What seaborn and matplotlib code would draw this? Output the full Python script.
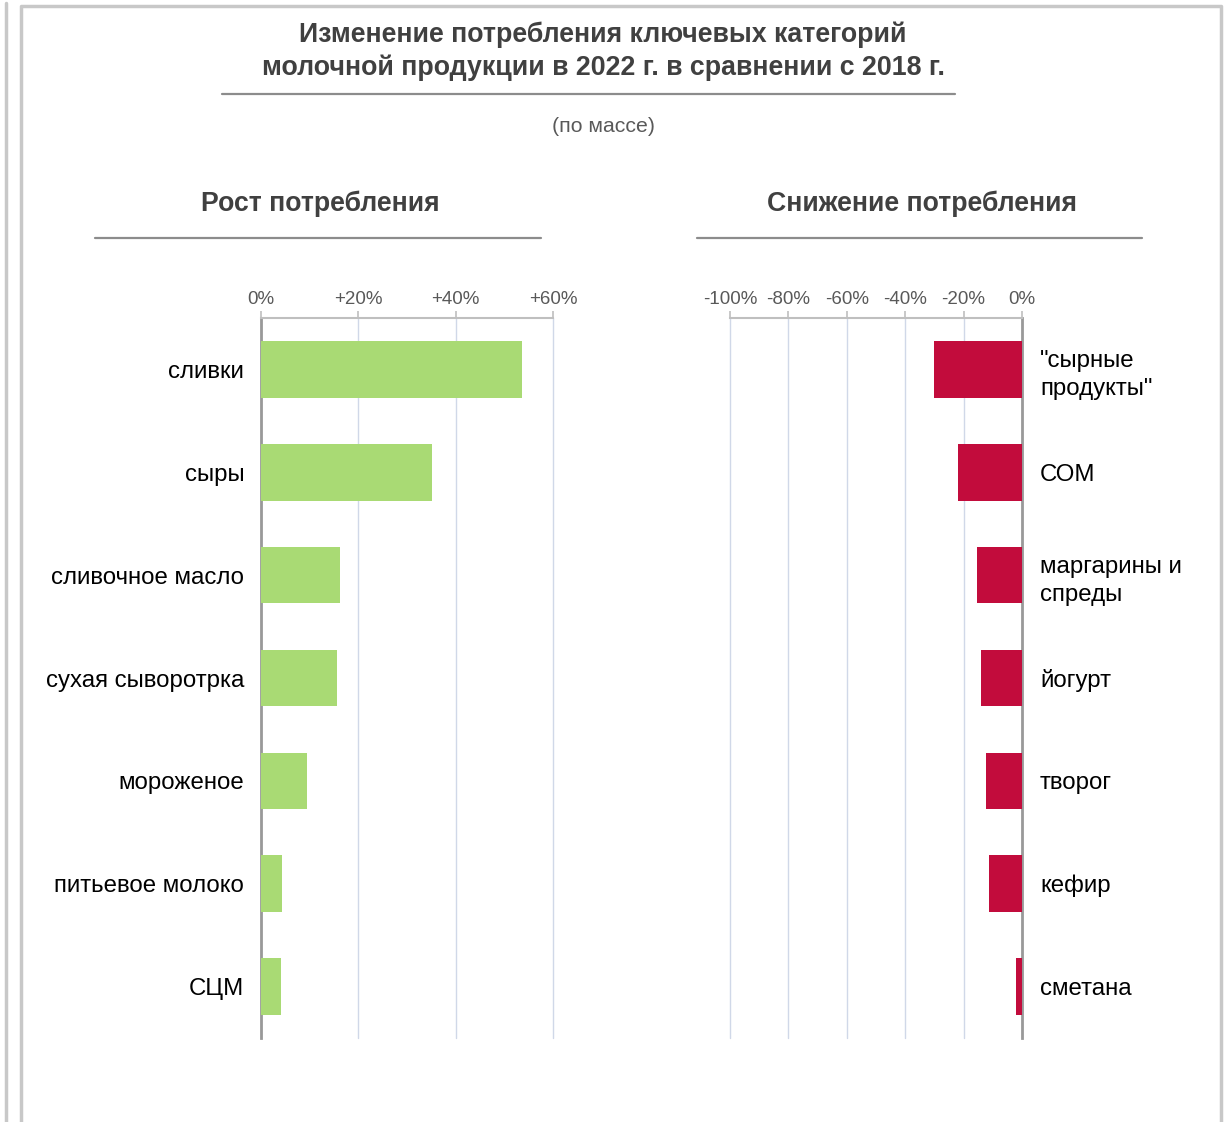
import matplotlib
matplotlib.use("Agg")
import matplotlib.pyplot as plt
import seaborn as sns
import pandas as pd
from matplotlib.lines import Line2D

sns.set_theme(style="white")
plt.rcParams['font.family'] = ['Liberation Sans', 'DejaVu Sans']

# Data
growth_cats = ["сливки", "сыры", "сливочное масло", "сухая сыворотрка",
               "мороженое", "питьевое молоко", "СЦМ"]
growth_vals = [53.6, 35.2, 16.2, 15.6, 9.5, 4.3, 4.1]

decline_cats = ['"сырные\nпродукты"', "СОМ", "маргарины и\nспреды", "йогурт",
                "творог", "кефир", "сметана"]
decline_vals = [-30.0, -21.9, -15.3, -14.0, -12.3, -11.2, -2.0]

growth_ticks = [0, 20, 40, 60]
growth_ticklabels = ["0%", "+20%", "+40%", "+60%"]
decline_ticks = [-100, -80, -60, -40, -20, 0]
decline_ticklabels = ["-100%", "-80%", "-60%", "-40%", "-20%", "0%"]

title = "Изменение потребления ключевых категорий\nмолочной продукции в 2022 г. в сравнении с 2018 г."
subtitle = "(по массе)"
left_title = "Рост потребления"
right_title = "Снижение потребления"

W, H = 1230, 1122
fig = plt.figure(figsize=(W / 100, H / 100), dpi=100)

def fx(px):
    return px / W

def fy(py):
    return 1 - py / H

green = "#a9da74"
red = "#c20c3c"
grid_c = "#d0d8e8"
spine_c = "#bfbfbf"
axis_c = "#999999"
tick_c = "#595959"

axL = fig.add_axes([fx(261), fy(1038), fx(553) - fx(261), fy(318) - fy(1038)])
axR = fig.add_axes([fx(730), fy(1038), fx(1022) - fx(730), fy(318) - fy(1038)])

dfL = pd.DataFrame({"cat": growth_cats, "val": growth_vals})
dfR = pd.DataFrame({"cat": decline_cats, "val": decline_vals})

sns.barplot(data=dfL, x="val", y="cat", orient="h", color=green, width=0.55,
            saturation=1, ax=axL, zorder=3, linewidth=0)
sns.barplot(data=dfR, x="val", y="cat", orient="h", color=red, width=0.55,
            saturation=1, ax=axR, zorder=3, linewidth=0)

for ax, ticks, labels, xlim in [(axL, growth_ticks, growth_ticklabels, (0, 60)),
                                (axR, decline_ticks, decline_ticklabels, (-100, 0))]:
    ax.set_xlim(*xlim)
    ax.set_ylim(6.5, -0.5)
    ax.set_xlabel("")
    ax.set_ylabel("")
    ax.xaxis.set_ticks_position("top")
    ax.set_xticks(ticks)
    ax.set_xticklabels(labels)
    ax.tick_params(axis="x", colors=spine_c, labelcolor=tick_c, labelsize=13.5,
                   length=5, width=1.2, direction="out", pad=2.5)
    ax.tick_params(axis="y", length=0, labelsize=17.3, labelcolor="black")
    ax.grid(axis="x", color=grid_c, linewidth=1.0, zorder=0, clip_on=False)
    for s in ax.spines.values():
        s.set_visible(False)
    ax.spines["top"].set_visible(True)
    ax.spines["top"].set_color(spine_c)
    ax.spines["top"].set_linewidth(1.5)

axL.spines["left"].set_visible(True)
axL.spines["left"].set_color(axis_c)
axL.spines["left"].set_linewidth(2)
axL.tick_params(axis="y", pad=12)

axR.spines["right"].set_visible(True)
axR.spines["right"].set_color(axis_c)
axR.spines["right"].set_linewidth(2)
axR.yaxis.set_ticks_position("right")
axR.tick_params(axis="y", pad=13, labelright=True, labelleft=False)
for lab in axR.get_yticklabels():
    lab.set_horizontalalignment("left")
    lab.set_linespacing(1.35)

# Titles
fig.text(fx(603), fy(51), title, ha="center", va="center", fontsize=19.3,
         fontweight="bold", color="#404040", linespacing=1.33)
fig.text(fx(603), fy(126), subtitle, ha="center", va="center", fontsize=15.3,
         color="#595959")
fig.text(fx(320), fy(204), left_title, ha="center", va="center", fontsize=19.2,
         fontweight="bold", color="#404040")
fig.text(fx(922), fy(204), right_title, ha="center", va="center", fontsize=19.2,
         fontweight="bold", color="#404040")

# Rules
for x0, x1, y in [(222, 955, 94), (95, 541, 238), (697, 1142, 238)]:
    fig.add_artist(Line2D([fx(x0), fx(x1)], [fy(y), fy(y)], color="#8c8c8c",
                          linewidth=1.6, transform=fig.transFigure))

# Frame
frame_c = "#c8c8c8"
fig.add_artist(Line2D([fx(6), fx(6)], [fy(3), 0], color=frame_c, linewidth=2.5,
                      transform=fig.transFigure))
fig.add_artist(Line2D([fx(21), fx(21), fx(1221), fx(1221)], [0, fy(5.5), fy(5.5), 0],
                      color=frame_c, linewidth=2.5, transform=fig.transFigure))

fig.savefig("out.png", dpi=100)
